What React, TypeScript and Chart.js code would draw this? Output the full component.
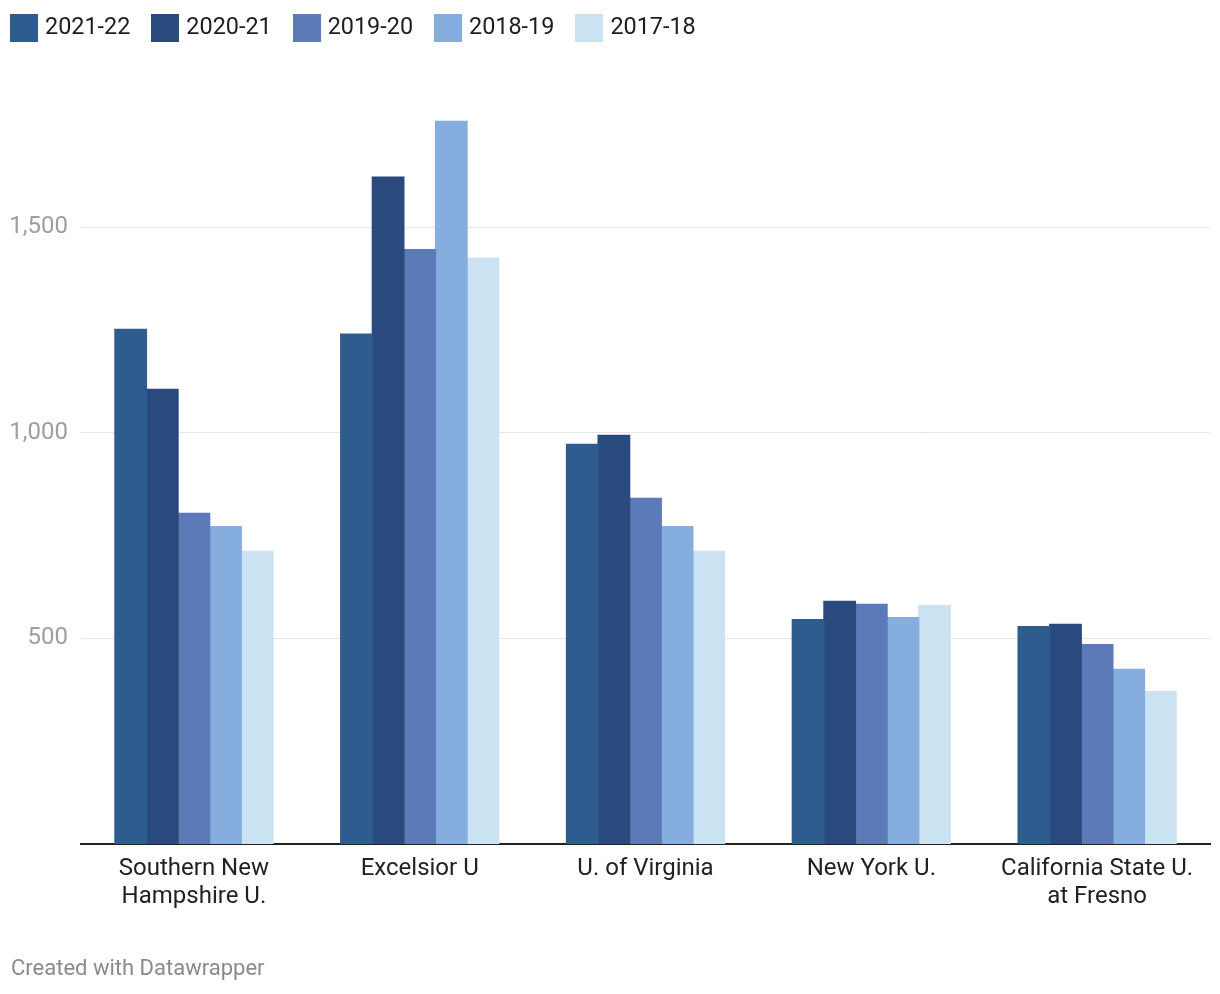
import React, { useEffect, useRef } from "react";
import { Chart, registerables } from "chart.js";

Chart.register(...registerables);

const categories: string[][] = [
  ["Southern New", "Hampshire U."],
  ["Excelsior U"],
  ["U. of Virginia"],
  ["New York U."],
  ["California State U.", "at Fresno"],
];

const seriesNames = ["2021-22", "2020-21", "2019-20", "2018-19", "2017-18"];
const seriesColors = ["#2f5c8f", "#2a4a7e", "#5b7ab7", "#85aedf", "#cbe2f2"];

const values2021_22 = [1252, 1240, 972, 546, 529];
const values2020_21 = [1106, 1622, 994, 590, 534];
const values2019_20 = [804, 1446, 841, 583, 485];
const values2018_19 = [772, 1758, 772, 551, 425];
const values2017_18 = [712, 1425, 712, 580, 371];

const allValues = [values2021_22, values2020_21, values2019_20, values2018_19, values2017_18];
const yTicks = [500, 1000, 1500];
const yMax = 1800;

const FONT = "Roboto";

export default function App() {
  const ref = useRef<HTMLCanvasElement | null>(null);

  useEffect(() => {
    if (!ref.current) return;
    const chart = new Chart(ref.current, {
      type: "bar",
      data: {
        labels: categories,
        datasets: seriesNames.map((name, i) => ({
          label: name,
          data: allValues[i],
          backgroundColor: seriesColors[i],
          borderWidth: 0,
          inflateAmount: 0.6,
          categoryPercentage: 0.7,
          barPercentage: 1,
        })),
      },
      options: {
        animation: false,
        responsive: false,
        maintainAspectRatio: false,
        layout: { padding: { top: 104, bottom: 50, left: 0, right: 10 } },
        plugins: {
          legend: { display: false },
          tooltip: { enabled: false },
        },
        scales: {
          x: {
            grid: { display: false, drawTicks: false },
            border: { display: true, color: "#222222", width: 2 },
            ticks: {
              color: "#222222",
              padding: 11,
              font: { family: FONT, size: 24, lineHeight: 1.17 },
              maxRotation: 0,
              autoSkip: false,
            },
            afterFit: (scale: any) => {
              scale.height = 100;
            },
          },
          y: {
            min: 0,
            max: yMax,
            grid: { color: "#e5e5e5", lineWidth: 1, drawTicks: false },
            border: { display: false },
            ticks: {
              color: "#9e9e9e",
              padding: 13,
              font: { family: FONT, size: 24 },
              callback: (v: any) => Number(v).toLocaleString("en-US"),
            },
            afterBuildTicks: (axis: any) => {
              axis.ticks = yTicks.map((v) => ({ value: v }));
            },
            afterFit: (scale: any) => {
              scale.width = 81;
            },
          },
        },
      },
    });
    return () => chart.destroy();
  }, []);

  return (
    <div
      style={{
        position: "absolute",
        left: 0,
        top: 0,
        width: 1220,
        height: 994,
        background: "#ffffff",
        fontFamily: FONT,
      }}
    >
      <canvas ref={ref} width={1220} height={994} style={{ position: "absolute", left: 0, top: 0 }} />
      <div
        style={{
          position: "absolute",
          left: 10,
          top: 14,
          display: "flex",
          alignItems: "center",
          height: 28,
        }}
      >
        {seriesNames.map((name, i) => (
          <div key={name} style={{ display: "flex", alignItems: "center", marginRight: 21 }}>
            <span
              style={{
                display: "inline-block",
                width: 28,
                height: 28,
                background: seriesColors[i],
                marginRight: 7,
              }}
            />
            <span style={{ fontSize: 23.4, color: "#1d1d1d", lineHeight: "28px", position: "relative", top: -2 }}>
              {name}
            </span>
          </div>
        ))}
      </div>
      <div
        style={{
          position: "absolute",
          left: 11,
          top: 954,
          fontSize: 22,
          color: "#8a8a8a",
          lineHeight: "28px",
        }}
      >
        Created with Datawrapper
      </div>
    </div>
  );
}
